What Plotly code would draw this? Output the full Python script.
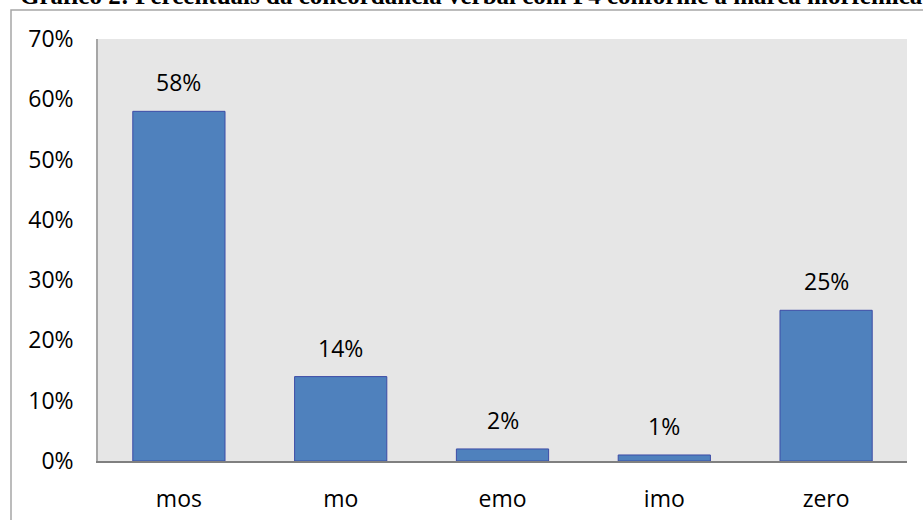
import plotly.graph_objects as go

# Share of verbal agreement per morphemic marker
categories = ["mos", "mo", "emo", "imo", "zero"]
values = [0.58, 0.14, 0.02, 0.01, 0.25]
y_ticks = [0, 0.1, 0.2, 0.3, 0.4, 0.5, 0.6, 0.7]

title_text = "Gráfico 2: Percentuais da concordância verbal com P4 conforme a marca morfêmica"

FONT = "Open Sans"
FS = 23
W, H = 923, 520
L, R, T, B = 98, 16, 39, 59
plot_w = W - L - R
plot_h = H - T - B

fig = go.Figure()
fig.add_trace(go.Bar(
    x=categories,
    y=values,
    marker=dict(color="#4F81BD", line=dict(color="#3D4CA6", width=1)),
    hoverinfo="skip",
))

# value labels above each bar
for c, v in zip(categories, values):
    fig.add_annotation(
        x=c, y=v, xref="x", yref="y",
        text=f"{round(v * 100)}%",
        showarrow=False, yanchor="bottom", yshift=11,
        font=dict(family=FONT, size=FS, color="#000000"),
    )

# chart title sitting at the very top edge of the page
fig.add_annotation(
    x=(18 - L) / plot_w, y=1 + (T - 11) / plot_h,
    xref="paper", yref="paper", xanchor="left", yanchor="bottom",
    text=f"<b>{title_text}</b>", showarrow=False,
    font=dict(family="Liberation Serif", size=25, color="#000000"),
)

# outer frame of the chart area
fig.add_shape(
    type="rect", xref="paper", yref="paper",
    x0=(11 - L) / plot_w, x1=1.5,
    y0=-0.5, y1=1 + (T - 10) / plot_h,
    line=dict(color="#A6A6A6", width=1.5), fillcolor="rgba(0,0,0,0)",
)

fig.update_layout(
    width=W, height=H,
    margin=dict(l=L, r=R, t=T, b=B, autoexpand=False),
    paper_bgcolor="#FFFFFF",
    plot_bgcolor="#E6E6E6",
    bargap=0.43,
    showlegend=False,
    font=dict(family=FONT, size=FS, color="#000000"),
)
fig.update_xaxes(
    showline=True, linecolor="#808080", linewidth=1.5,
    showgrid=False, ticks="", ticklabelstandoff=17, automargin=False,
    tickfont=dict(family=FONT, size=FS, color="#000000"),
)
fig.update_yaxes(
    range=[0, 0.7], tickvals=y_ticks, tickformat=".0%",
    showline=True, linecolor="#A6A6A6", linewidth=1.5,
    showgrid=False, zeroline=False, ticks="", ticklabelstandoff=18,
    automargin=False,
    tickfont=dict(family=FONT, size=FS, color="#000000"),
)

fig.write_html("out.html")
